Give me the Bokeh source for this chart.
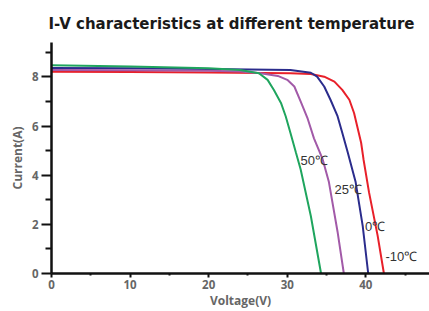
from bokeh.plotting import figure
from bokeh.models import FixedTicker, Range1d, Label
from bokeh.embed import file_html
from bokeh.resources import INLINE

# Data
v_50 = [0, 10, 20, 24, 26.4, 27.5, 28.3, 29.2, 29.8, 30.4, 31.1, 31.7, 33.0, 34.3]
i_50 = [8.47, 8.42, 8.35, 8.28, 8.15, 7.88, 7.47, 6.94, 6.40, 5.73, 4.92, 4.24, 2.34, 0.0]

v_25 = [0, 10, 20, 24, 26.6, 28.8, 30.0, 30.9, 31.7, 32.6, 33.4, 34.5, 35.3, 36.4, 37.2]
i_25 = [8.28, 8.27, 8.25, 8.22, 8.15, 8.04, 7.88, 7.61, 7.0, 6.3, 5.5, 4.65, 3.72, 1.70, 0.0]

v_0 = [0, 10, 20, 30.4, 33.0, 33.8, 34.7, 35.5, 36.4, 37.0, 37.7, 38.7, 39.6, 40.3]
i_0 = [8.36, 8.35, 8.32, 8.28, 8.17, 8.01, 7.61, 7.07, 6.40, 5.73, 4.92, 3.72, 1.94, 0.0]

v_m10 = [0, 10, 20, 30.4, 33.0, 34.7, 36.0, 37.0, 37.9, 38.5, 38.9, 39.4, 39.7, 40.4, 41.5, 42.3]
i_m10 = [8.21, 8.2, 8.18, 8.15, 8.12, 8.01, 7.81, 7.47, 7.07, 6.53, 5.99, 5.32, 4.65, 3.31, 1.54, 0.0]

labels = ["50℃", "25℃", "0℃", "-10℃"]
label_v = [31.7, 36.0, 39.9, 42.5]
label_i = [4.6, 3.4, 1.9, 0.7]

x_major = [0, 10, 20, 30, 40]
x_minor = [5, 15, 25, 35, 45]
y_major = [0, 2, 4, 6, 8]
y_minor = [1, 3, 5, 7, 9]

p = figure(width=429, height=311, output_backend="svg", toolbar_location=None,
           x_range=Range1d(0, 48.1), y_range=Range1d(0, 9.4),
           min_border_left=51, min_border_right=0, min_border_top=42, min_border_bottom=36)
p.title.text = "I-V characteristics at different temperature"
p.title.text_font = "DejaVu Sans"
p.title.text_font_size = "15px"
p.title.text_font_style = "bold"
p.title.text_color = "#1a1a1a"
p.title.align = "left"
p.title.offset = -3
p.title.standoff = 20
p.outline_line_color = None
p.grid.visible = False

colors = {"50": "#1fa55e", "25": "#a25aa8", "0": "#2b2c8c", "-10": "#e8202a"}
p.line(v_m10, i_m10, line_color=colors["-10"], line_width=2)
p.line(v_0, i_0, line_color=colors["0"], line_width=2)
p.line(v_25, i_25, line_color=colors["25"], line_width=2)
p.line(v_50, i_50, line_color=colors["50"], line_width=2)

for t, vx, iy in zip(labels, label_v, label_i):
    p.add_layout(Label(x=vx, y=iy, text=t, text_font="Liberation Sans",
                       text_font_size="13px", text_color="#333333",
                       text_baseline="middle", text_align="left"))

p.xaxis.ticker = FixedTicker(ticks=x_major, minor_ticks=x_minor)
p.yaxis.ticker = FixedTicker(ticks=y_major, minor_ticks=y_minor)
for ax in (p.xaxis, p.yaxis):
    ax.axis_line_width = 2.5
    ax.axis_line_color = "#111111"
    ax.major_tick_line_width = 2
    ax.major_tick_line_color = "#111111"
    ax.minor_tick_line_width = 2
    ax.minor_tick_line_color = "#111111"
    ax.major_tick_in = 0
    ax.minor_tick_in = 0
    ax.major_label_text_font = "Open Sans"
    ax.major_label_text_font_size = "11.5px"
    ax.major_label_text_font_style = "bold"
    ax.major_label_text_color = "#666666"
    ax.axis_label_text_font = "Open Sans"
    ax.axis_label_text_font_size = "12px"
    ax.axis_label_text_font_style = "bold"
    ax.axis_label_text_color = "#666666"
p.yaxis.major_tick_out = 10
p.yaxis.minor_tick_out = 6
p.yaxis.major_label_standoff = 3
p.yaxis.axis_label_standoff = 3
p.xaxis.major_tick_out = 4
p.xaxis.minor_tick_out = 2
p.xaxis.major_label_standoff = 2
p.xaxis.axis_label_standoff = 0
p.xaxis.axis_label = "Voltage(V)"
p.yaxis.axis_label = "Current(A)"

open("out.html", "w").write(file_html(p, INLINE))
